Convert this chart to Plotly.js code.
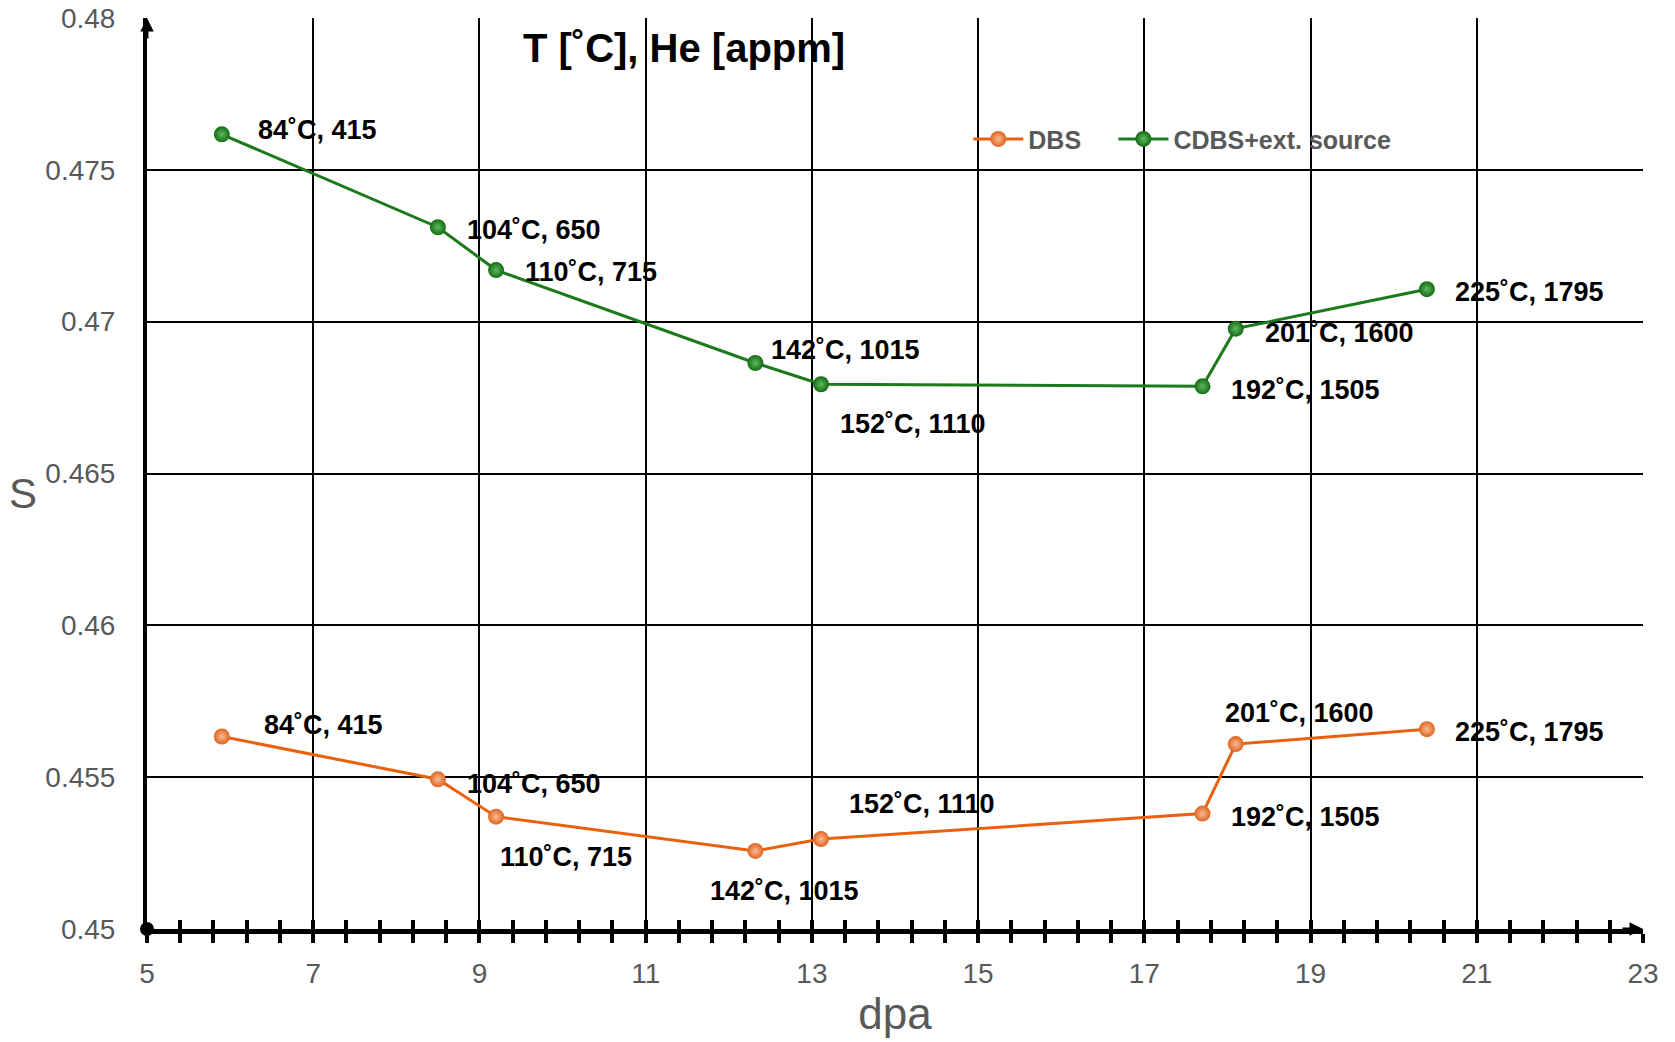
<!DOCTYPE html>
<html>
<head>
<meta charset="utf-8">
<script src="https://cdn.plot.ly/plotly-3.0.1.min.js"></script>
<style>html,body{margin:0;padding:0;background:#fff;}#chart{width:1675px;height:1042px;}</style>
</head>
<body>
<div id="chart"></div>
<script>
// ---- data ----
const dpa = [5.9, 8.5, 9.2, 12.32, 13.11, 17.70, 18.10, 20.40];
const sDBS = [0.45634, 0.45493, 0.4537, 0.45257, 0.45296, 0.4538, 0.45609, 0.45658];
const sCDBS = [0.47617, 0.47311, 0.4717, 0.46864, 0.46794, 0.46787, 0.46977, 0.47107];
const pointLabels = ['84˚C, 415', '104˚C, 650', '110˚C, 715', '142˚C, 1015', '152˚C, 1110', '192˚C, 1505', '201˚C, 1600', '225˚C, 1795'];
const seriesNames = ['DBS', 'CDBS+ext. source'];
const xRange = [5, 23];
const yRange = [0.45, 0.48];
const chartTitle = 'T [˚C], He [appm]';
const xTitle = 'dpa';
const yTitle = 'S';

// ---- label placement (pixel offsets, layout only) ----
const cdbsShift = [[34,4],[27,-3],[27,-2],[14,13],[17,-40],[26,-4],[27,-4],[26,-3]];
const dbsShift  = [[40,11],[27,-5],[2,-40],[-47,-40],[26,35],[26,-3],[-13,31],[26,-3]];

const FONT = '"Liberation Sans", Arial, sans-serif';
const GRAY = '#595959';

const traces = [
  {
    x: dpa, y: sDBS, name: seriesNames[0], type: 'scatter', mode: 'lines+markers', legend: 'legend',
    line: {color: '#E8620E', width: 3},
    marker: {size: 16, color: '#DE6420', gradient: {type: 'radial', color: '#F9BC92'}, line: {width: 0}},
    cliponaxis: false
  },
  {
    x: dpa, y: sCDBS, name: seriesNames[1], type: 'scatter', mode: 'lines+markers', legend: 'legend2',
    line: {color: '#1C7A1C', width: 3},
    marker: {size: 16, color: '#156A15', gradient: {type: 'radial', color: '#5DBB5D'}, line: {width: 0}},
    cliponaxis: false
  },
  {
    x: [xRange[0]], y: [yRange[0]], xaxis: 'x2', yaxis: 'y', type: 'scatter', mode: 'markers',
    marker: {size: 14, color: '#000'}, showlegend: false, hoverinfo: 'skip', cliponaxis: false
  }
];

const annotations = [];
function addLabels(ys, shifts) {
  for (let i = 0; i < dpa.length; i++) {
    annotations.push({
      x: dpa[i], y: ys[i], xref: 'x', yref: 'y', text: pointLabels[i], showarrow: false,
      xanchor: 'left', yanchor: 'middle', xshift: shifts[i][0], yshift: shifts[i][1],
      font: {family: FONT, size: 27, color: '#000', weight: 'bold'}
    });
  }
}
addLabels(sCDBS, cdbsShift);
addLabels(sDBS, dbsShift);
// axis arrows
annotations.push({x: xRange[1], y: yRange[0], xref: 'x', yref: 'y', text: '', showarrow: true,
  ax: -22, ay: 0, arrowhead: 2, arrowsize: 0.9, arrowwidth: 3, arrowcolor: '#000'});
annotations.push({x: xRange[0], y: yRange[1], xref: 'x', yref: 'y', text: '', showarrow: true,
  ax: 0, ay: 22, arrowhead: 2, arrowsize: 0.9, arrowwidth: 3, arrowcolor: '#000'});
// upright y-axis title
annotations.push({x: -0.083, y: 0.4775, xref: 'paper', yref: 'paper', text: yTitle, showarrow: false,
  xanchor: 'center', yanchor: 'middle', font: {family: FONT, size: 42, color: GRAY}});

const legendBase = {orientation: 'h', y: 0.867, xanchor: 'left', yanchor: 'middle',
  bgcolor: 'rgba(0,0,0,0)', itemwidth: 50,
  font: {family: FONT, size: 25, color: GRAY, weight: 'bold'}};

const layout = {
  width: 1675, height: 1042,
  margin: {l: 147, r: 32, t: 18, b: 113},
  paper_bgcolor: '#fff', plot_bgcolor: '#fff',
  font: {family: FONT, color: GRAY},
  title: {text: chartTitle, x: 0.359, y: 0.967, xref: 'paper', yref: 'paper', xanchor: 'center', yanchor: 'middle',
          font: {family: FONT, size: 40, color: '#000', weight: 'bold'}},
  showlegend: true,
  legend: Object.assign({}, legendBase, {x: 0.549}),
  legend2: Object.assign({}, legendBase, {x: 0.646}),
  xaxis: {
    range: xRange, tick0: 5, dtick: 2, showgrid: true, gridcolor: '#000', gridwidth: 2,
    zeroline: false, showline: true, linecolor: '#000', linewidth: 5,
    ticks: 'outside', ticklen: 9, tickwidth: 4, tickcolor: '#000',
    minor: {tick0: 5, dtick: 0.4, ticks: 'outside', ticklen: 9, tickwidth: 4, tickcolor: '#000', showgrid: false},
    ticklabelstandoff: 6,
    tickfont: {family: FONT, size: 28, color: GRAY},
    title: {text: xTitle, standoff: 12, font: {family: FONT, size: 44, color: GRAY}},
    automargin: false, fixedrange: true
  },
  xaxis2: {
    overlaying: 'x', anchor: 'y', side: 'bottom', range: xRange, tick0: 5, dtick: 0.4,
    ticks: 'inside', ticklen: 9, tickwidth: 4, tickcolor: '#000', showticklabels: false,
    showgrid: false, zeroline: false, showline: false, fixedrange: true
  },
  yaxis: {
    range: yRange, tick0: 0.45, dtick: 0.005, showgrid: true, gridcolor: '#000', gridwidth: 2,
    zeroline: false, showline: true, linecolor: '#000', linewidth: 4, ticks: '',
    ticklabelstandoff: 22,
    tickfont: {family: FONT, size: 28, color: GRAY},
    automargin: false, fixedrange: true
  },
  annotations: annotations
};

Plotly.newPlot('chart', traces, layout, {displayModeBar: false, staticPlot: true});
</script>
</body>
</html>
